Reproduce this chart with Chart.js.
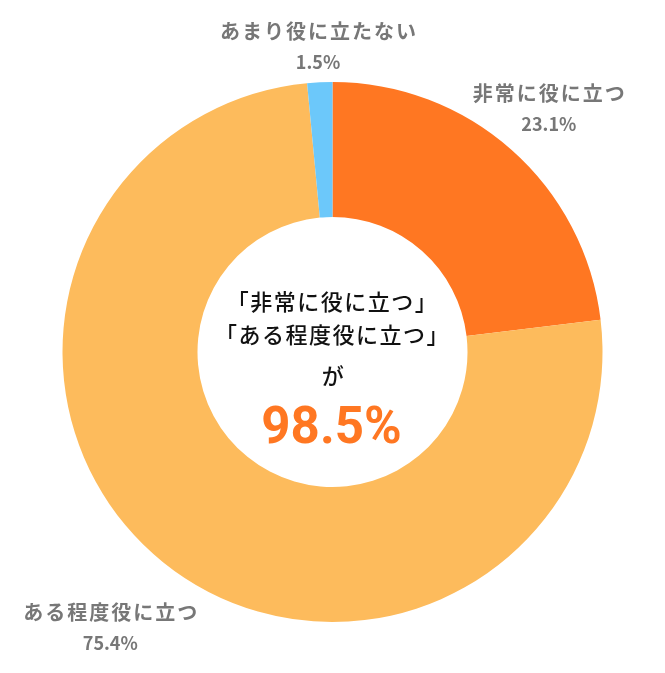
<!DOCTYPE html>
<html lang="ja">
<head>
<meta charset="utf-8">
<title>役に立つか</title>
<script src="https://cdn.jsdelivr.net/npm/chart.js@4/dist/chart.umd.min.js"></script>
<style>
  html, body { margin: 0; padding: 0; background: #fff; }
  #chart { display: block; }
</style>
</head>
<body>
<canvas id="chart" width="665" height="673"></canvas>
<script>
const categories = ["非常に役に立つ", "ある程度役に立つ", "あまり役に立たない"];
const shares = [23.1, 75.4, 1.5];
const sliceColors = ["#FF7722", "#FDBB5C", "#6CC8FA"];
const centerLines = ["「非常に役に立つ」", "「ある程度役に立つ」", "が"];
const centerValue = "98.5%";

// how far out each outside label sits from the centre
const labelDistance = [326, 354, 306];

const FONT = '"Noto Sans CJK JP", "Noto Sans", sans-serif';

const labelPlugin = {
  id: "outsideLabels",
  afterDatasetsDraw(chart) {
    const ctx = chart.ctx;
    const meta = chart.getDatasetMeta(0);
    ctx.save();
    ctx.textAlign = "center";
    ctx.textBaseline = "middle";
    ctx.fillStyle = "#777777";
    meta.data.forEach((arc, i) => {
      const p = arc.getProps(["x", "y", "startAngle", "endAngle"], true);
      const mid = (p.startAngle + p.endAngle) / 2;
      const cx = p.x + Math.cos(mid) * labelDistance[i];
      const cy = p.y + Math.sin(mid) * labelDistance[i];
      ctx.font = "bold 20px " + FONT;
      ctx.letterSpacing = "2px";
      ctx.fillText(categories[i], cx + 1, cy - 15);
      ctx.font = "bold 18px " + FONT;
      ctx.letterSpacing = "0px";
      ctx.fillText(shares[i].toFixed(1) + "%", cx, cy + 16);
    });

    // centre text
    const c = meta.data[0].getProps(["x", "y"], true);
    ctx.fillStyle = "#111111";
    ctx.font = "500 22px " + FONT;
    ctx.letterSpacing = "1.5px";
    ctx.fillText(centerLines[0], c.x, c.y - 50);
    ctx.fillText(centerLines[1], c.x, c.y - 17);
    ctx.fillText(centerLines[2], c.x + 1, c.y + 24);
    ctx.fillStyle = "#FF7722";
    ctx.font = "bold 51px Roboto, " + FONT;
    ctx.letterSpacing = "0px";
    ctx.fillText(centerValue, c.x - 1, c.y + 78);
    ctx.restore();
  }
};

new Chart(document.getElementById("chart").getContext("2d"), {
  type: "doughnut",
  data: {
    labels: categories,
    datasets: [
      {
        data: shares,
        backgroundColor: sliceColors,
        borderWidth: 0,
      },
    ],
  },
  options: {
    responsive: false,
    animation: false,
    cutout: "50%",
    layout: { padding: { top: 82, bottom: 51, left: 62, right: 62 } },
    plugins: {
      legend: { display: false },
      tooltip: { enabled: false },
    },
  },
  plugins: [labelPlugin],
});
</script>
</body>
</html>
